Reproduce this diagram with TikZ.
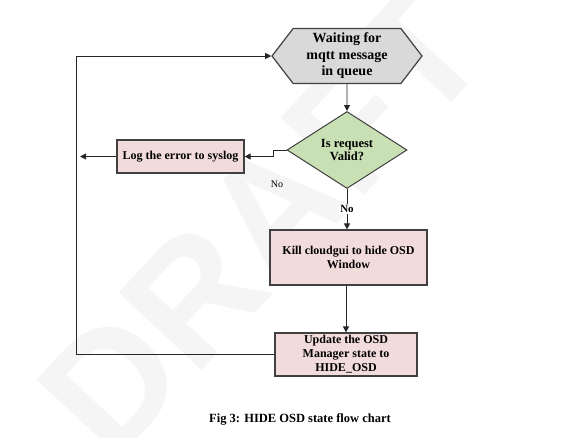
\documentclass[tikz,border=0pt]{standalone}
\usepackage{fontspec}
\setmainfont{Liberation Serif}
\newfontfamily\wmfont{Liberation Sans}
\usetikzlibrary{shapes.geometric,shapes.symbols,arrows.meta}
\definecolor{hexfill}{HTML}{D9D9D9}
\definecolor{dmdfill}{HTML}{C9E0B5}
\definecolor{boxfill}{HTML}{F2DCDB}
\definecolor{edgecol}{HTML}{404040}
\definecolor{wmcol}{HTML}{F5F5F5}
\begin{document}
\begin{tikzpicture}[x=1pt,y=-1pt,
  hexa/.style={signal, signal to=west and east, signal pointer angle=105,
    draw=edgecol, line width=1.2pt, fill=hexfill, minimum width=150pt, minimum height=55pt,
    inner sep=0pt, align=center, font=\bfseries\fontsize{14}{16.5}\selectfont},
  dmd/.style={diamond, draw=edgecol, line width=1pt, fill=dmdfill, minimum width=120pt,
    minimum height=77pt, inner sep=0pt, align=center, font=\bfseries\fontsize{12.5}{12.5}\selectfont},
  procbox/.style={rectangle, draw=edgecol, line width=1.2pt, fill=boxfill, inner sep=0pt,
    align=center, font=\bfseries\fontsize{12}{14}\selectfont},
  conn/.style={draw=black!85, line width=0.9pt, -{Triangle[length=6pt,width=6pt]}},
  plain/.style={draw=black!85, line width=0.9pt}
]
\useasboundingbox (0,0) rectangle (570,437);
\fill[white] (0,0) rectangle (570,437);
% watermark
\node[text=wmcol, font=\wmfont\bfseries\fontsize{165}{165}\selectfont, rotate=47] (wm) at (262,222) {DRAFT};

\node[hexa] (wait) at (347,56) {Waiting for\\mqtt message\\in queue};
\node[dmd] (valid) at (347,150) {Is request\\Valid?};
\node[procbox, minimum width=127pt, minimum height=33pt] (log) at (180.5,156.5) {Log the error to syslog};
\node[procbox, minimum width=157pt, minimum height=55pt] (kill) at (348.5,257.5) {Kill cloudgui to hide OSD\\Window};
\node[procbox, minimum width=142pt, minimum height=43pt] (upd) at (346,354.5) {Update the OSD\\Manager state to\\HIDE\_OSD};

\coordinate (jog) at (273,150);
\coordinate (leftend) at (80,156.5);
\coordinate (loopbl) at (76.7,354.5);
\coordinate (looptl) at (76.7,56);

\draw[conn] (wait) -- (valid);
\draw[conn] (valid.west) -- (jog) -- ++(0,6.5) -- (log.east);
\node[font=\fontsize{10}{12}\selectfont] (nol) at (277,184) {No};
\draw[conn] (valid.south) -- node[fill=white, inner sep=1.5pt, font=\bfseries\fontsize{11}{12}\selectfont] (nob) {No} (valid.south |- kill.north);
\draw[conn] (log.west) -- (leftend);
\draw[conn] (kill.south -| upd.north) -- (upd.north);
\draw[conn] (upd.west) -- (loopbl) -- (looptl) -- (wait.west);

\node[font=\bfseries\fontsize{12.5}{14}\selectfont] (cap) at (300,419) {Fig 3: HIDE OSD state flow chart};
\end{tikzpicture}
\end{document}
